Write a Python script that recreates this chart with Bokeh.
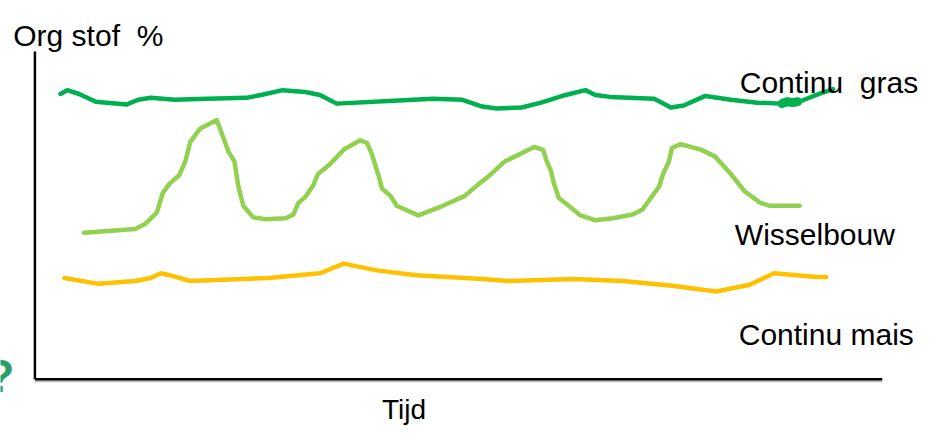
from bokeh.plotting import figure
from bokeh.models import Range1d
from bokeh.core.properties import value
from bokeh.embed import file_html
from bokeh.resources import INLINE

H = 442  # picture height used to turn picture rows into upward values

# Continu gras (dark green)
gras_t = [61, 68, 80, 97, 128, 140, 153, 177, 210, 250, 265, 287, 310, 325, 342, 400, 440, 470,
          490, 505, 530, 550, 575, 595, 605, 620, 665, 682, 695, 717, 743, 770, 793, 815, 830, 847]
gras_r = [97, 93, 97, 105, 108, 103, 101, 103, 102, 101, 98, 93, 95, 98, 107, 104, 102, 103,
          110, 112, 111, 106, 98, 93, 98, 100, 102, 111, 109, 99, 103, 106, 107, 104, 98, 92]
gras_blob_t = [795, 800, 806, 811]
gras_blob_r = [107, 105, 106, 105]

# Wisselbouw (light green)
wissel_t = [85, 137, 147, 159, 165, 172, 182, 188, 193, 203, 220, 232, 238, 242, 247, 257, 270,
            290, 298, 303, 310, 318, 323, 335, 350, 366, 373, 378, 385, 388, 397, 403, 425, 450,
            472, 487, 497, 513, 543, 552, 555, 560, 563, 568, 578, 590, 605, 623, 643, 653, 670,
            674, 680, 683, 692, 713, 727, 743, 757, 773, 783, 813]
wissel_r = [241, 237, 232, 220, 200, 190, 181, 167, 147, 133, 124, 157, 167, 193, 213, 225, 227,
            226, 222, 210, 204, 192, 180, 170, 154, 145, 148, 160, 183, 195, 203, 213, 223, 213,
            203, 190, 182, 167, 152, 155, 165, 177, 190, 205, 213, 223, 228, 226, 222, 217, 193,
            180, 167, 153, 149, 155, 162, 180, 198, 210, 213, 213]

# Continu mais (yellow)
mais_t = [65, 100, 137, 153, 163, 172, 193, 273, 325, 349, 383, 423, 490, 517, 583, 633, 683,
          728, 762, 787, 830, 840]
mais_r = [288, 294, 291, 288, 283, 285, 291, 288, 283, 273, 280, 285, 289, 291, 289, 291, 296,
          302, 295, 283, 287, 287]

# axes extents
yaxis_t = [35, 35]
yaxis_r = [53, 393]
xaxis_t = [35, 897]
xaxis_r = [393, 393]

NB = "\u00a0"
labels = ["Org stof " + NB + "%", "Continu " + NB + "gras", "Wisselbouw", "Continu mais", "Tijd"]
label_t = [13, 752, 747, 751, 388]
label_r = [36, 85, 243, 347, 424]
label_size = ["30px", "30px", "30px", "30px", "28px"]


def up(rows):
    return [H - r for r in rows]


p = figure(width=926, height=426, output_backend="svg", toolbar_location=None,
           x_range=Range1d(0, 942), y_range=Range1d(0, 442), min_border=0)
p.axis.visible = False
p.grid.visible = False
p.outline_line_color = None
p.background_fill_color = "white"
p.border_fill_color = "white"

# axes drawn as lines
p.line(xaxis_t, up([r + 2 for r in xaxis_r]), line_color="#bbbbbb", line_width=2)
p.line(yaxis_t, up(yaxis_r), line_color="black", line_width=2.5)
p.line(xaxis_t, up(xaxis_r), line_color="black", line_width=2.5)

p.line(gras_t, up(gras_r), line_color="#00B050", line_width=4.5,
       line_join="round", line_cap="round")
p.line(gras_blob_t, up(gras_blob_r), line_color="#00B050", line_width=9,
       line_join="round", line_cap="round")
p.line(wissel_t, up(wissel_r), line_color="#92D050", line_width=4.5,
       line_join="round", line_cap="round")
p.line(mais_t, up(mais_r), line_color="#FFC000", line_width=4.5,
       line_join="round", line_cap="round")

for txt, tx, tr, sz in zip(labels, label_t, label_r, label_size):
    p.text(x=[tx], y=[H - tr], text=[txt], text_font=value("Liberation Sans"),
           text_font_size=sz, text_color="black", text_align="left",
           text_baseline="alphabetic")

p.text(x=[14], y=[H - 390], text=["?"], text_font=value("Liberation Sans"),
       text_font_size="46px", text_font_style="bold", text_color="#2E9E68",
       text_align="right", text_baseline="alphabetic")

open("out.html", "w").write(file_html(p, INLINE))
